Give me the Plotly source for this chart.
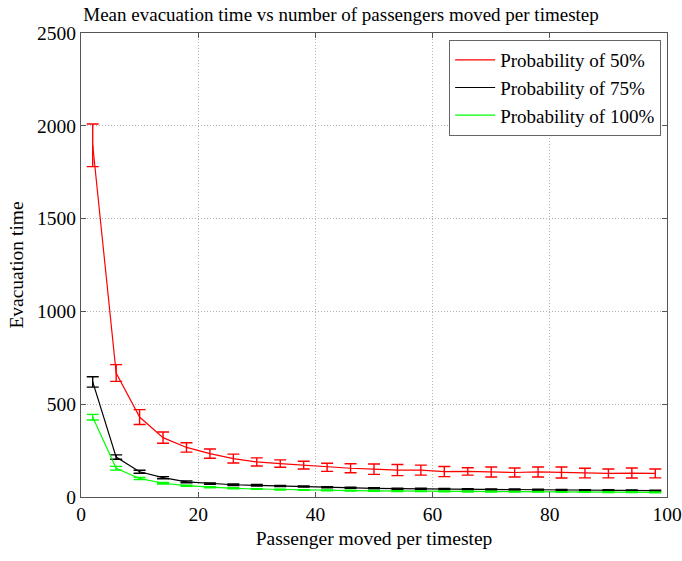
import plotly.graph_objects as go

x = [2, 6, 10, 14, 18, 22, 26, 30, 34, 38, 42, 46, 50, 54, 58, 62, 66, 70, 74, 78, 82, 86, 90, 94, 98]

red_mean = [1895, 668, 431, 320, 267, 234, 207, 189, 180, 172, 160, 155, 150, 145, 145, 137, 138, 135, 132, 135, 132, 129, 127, 129, 127]
red_err = [115, 45, 40, 30, 25, 25, 24, 22, 20, 21, 22, 24, 28, 30, 27, 27, 20, 27, 24, 27, 30, 26, 24, 27, 24]

black_mean = [620, 215, 136, 104, 82, 72, 66, 63, 59, 56, 52, 50, 47, 45, 44, 43, 42, 41, 40, 39, 38, 37, 36, 35, 34]
black_err = [28, 12, 8, 6, 5, 4, 4, 4, 3, 3, 3, 3, 3, 3, 3, 3, 3, 3, 3, 3, 3, 3, 3, 3, 3]

green_mean = [430, 155, 100, 74, 61, 52, 47, 43, 40, 38, 36, 34, 33, 32, 31, 30, 29, 29, 28, 28, 27, 27, 26, 26, 25]
green_err = [15, 10, 6, 4, 3, 3, 3, 2, 2, 2, 2, 2, 2, 2, 2, 2, 2, 2, 2, 2, 2, 2, 2, 2, 2]

names = ["Probability of 50%", "Probability of 75%", "Probability of 100%"]
colors = ["#ff0000", "#000000", "#00ff00"]

x_ticks = [0, 20, 40, 60, 80, 100]
y_ticks = [0, 500, 1000, 1500, 2000, 2500]

fig = go.Figure()
for mean, err, name, col in [(red_mean, red_err, names[0], colors[0]),
                             (black_mean, black_err, names[1], colors[1]),
                             (green_mean, green_err, names[2], colors[2])]:
    fig.add_trace(go.Scatter(
        x=x, y=mean, name=name, mode="lines",
        line=dict(color=col, width=1.2),
        error_y=dict(type="data", array=err, visible=True, color=col, thickness=1.4, width=6),
    ))

font = "Liberation Serif, Times New Roman, serif"
fs = 19.5
W, H = 682, 561
fig.update_layout(
    width=W, height=H,
    margin=dict(l=81, r=15, t=33, b=64),
    paper_bgcolor="white", plot_bgcolor="white",
    font=dict(family=font, size=fs, color="black"),
    title=dict(text="Mean evacuation time vs number of passengers moved per timestep",
               x=0.5, xanchor="center", y=1 - 14 / H, yanchor="middle",
               font=dict(family=font, size=19, color="black")),
    showlegend=True,
    legend=dict(x=0.99, xanchor="right", y=0.985, yanchor="top",
                bgcolor="white", bordercolor="#666666", borderwidth=1,
                font=dict(family=font, size=19, color="black"),
                itemwidth=40, tracegroupgap=0),
    xaxis=dict(range=[0, 100], tickvals=x_ticks, showgrid=True, automargin=False,
               gridcolor="#b4b4b4", griddash="1px,2px", gridwidth=1,
               showline=True, linecolor="#555555", linewidth=1, mirror="ticks",
               ticks="inside", ticklen=5, tickcolor="#555555",
               zeroline=False,
               title=dict(text="Passenger moved per timestep", standoff=6,
                          font=dict(family=font, size=fs))),
    yaxis=dict(range=[0, 2500], tickvals=y_ticks, showgrid=True, automargin=False,
               gridcolor="#b4b4b4", griddash="1px,2px", gridwidth=1,
               showline=True, linecolor="#555555", linewidth=1, mirror="ticks",
               ticks="inside", ticklen=5, tickcolor="#555555",
               zeroline=False,
               title=dict(text="Evacuation time", standoff=8,
                          font=dict(family=font, size=fs))),
)

# remove the page's default body margin so the figure fills the window exactly
fig.write_html("out.html",
               config={"displayModeBar": False},
               post_script="document.body.style.margin='0';document.body.style.overflow='hidden';")
